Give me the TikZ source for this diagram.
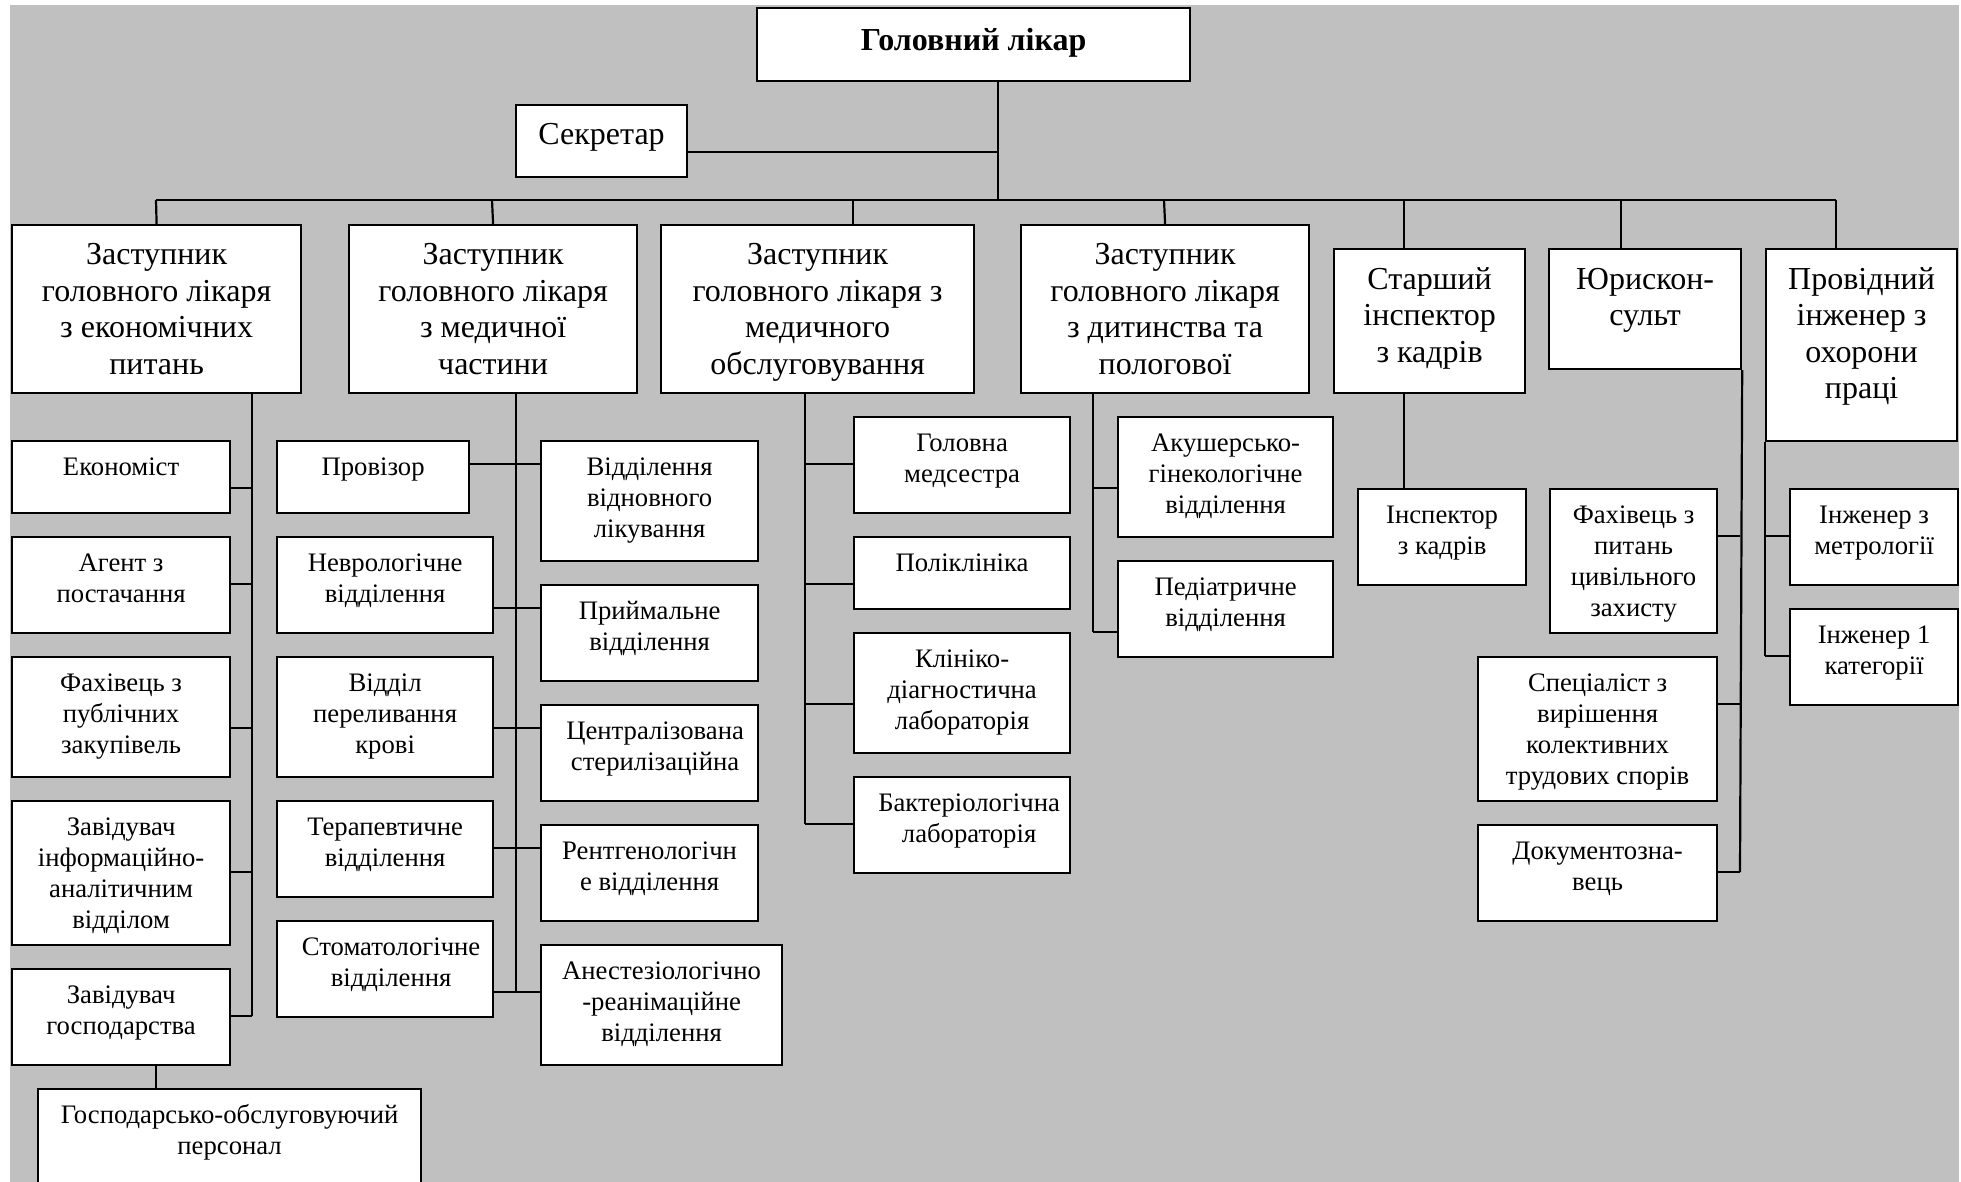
\documentclass[tikz,border=0pt]{standalone}
\usepackage{fontspec}
\setmainfont{Liberation Serif}

% one drawing unit = one pixel of the 1961 x 1182 sheet
\newlength{\pxu}\setlength{\pxu}{0.5pt}
\newcommand{\fsm}{\fontsize{13.35}{15.5}\selectfont}
\newcommand{\fbg}{\fontsize{16}{18.25}\selectfont}
% a box of given size whose text starts at the top
\newcommand{\cellbox}[5]{%
  \parbox[c][#2\pxu][t]{#1\pxu}{#3\centering\vspace*{#4\pxu}\strut#5\par}}
% [top pad]{name}{x1}{y1}{x2}{y2}{font}{text}
\newcommand{\orgnode}[8][13]{%
  \node[cell] (#2) at (#3,#4)
    {\cellbox{\numexpr#5-#3\relax}{\numexpr#6-#4\relax}{#7}{#1}{#8}};}
% moves a centred text block to the right by half the amount
\newcommand{\shiftby}[1]{\leftskip=#1\pxu plus 1fil\relax}

\definecolor{sheet}{RGB}{192,192,192}

\tikzset{
  cell/.style={draw=black, line width=1.1pt, fill=white, inner sep=0pt,
    anchor=north west},
  link/.style={draw=black, line width=1.1pt}
}

\begin{document}
\begin{tikzpicture}[x=0.5pt, y=-0.5pt]
\useasboundingbox (0,0) rectangle (1961,1182);
\fill[white] (0,0) rectangle (1961,1182);
\fill[sheet] (10,5) rectangle (1959,1182);

% top level
\orgnode[16.5]{head}{756}{7}{1189}{80}{\fbg\bfseries}{Головний лікар}
\orgnode[13.5]{sec}{515}{104}{686}{176}{\fbg}{Секретар}

% deputies and heads of services
\orgnode[14]{z1}{11}{224}{300}{392}{\fbg}{Заступник\\головного лікаря\\з економічних\\питань}
\orgnode[14]{z2}{348}{224}{636}{392}{\fbg}{Заступник\\головного лікаря\\з медичної\\частини}
\orgnode[14]{z3}{660}{224}{973}{392}{\fbg}{Заступник\\головного лікаря з\\медичного\\обслуговування}
\orgnode[14]{z4}{1020}{224}{1308}{392}{\fbg}{Заступник\\головного лікаря\\з дитинства та\\пологової}
\orgnode[14.5]{st}{1333}{248}{1524}{392}{\fbg}{Старший\\інспектор\\з кадрів}
\orgnode[14.5]{yu}{1548}{248}{1740}{368}{\fbg}{Юрискон-\\сульт}
\orgnode[14.5]{pr}{1765}{248}{1956}{440}{\fbg}{Провідний\\інженер з\\охорони\\праці}

% economic branch
\orgnode{eco}{11}{440}{229}{512}{\fsm}{Економіст}
\orgnode{agent}{11}{536}{229}{632}{\fsm}{Агент з\\постачання}
\orgnode{purch}{11}{656}{229}{776}{\fsm}{Фахівець з\\публічних\\закупівель}
\orgnode{info}{11}{800}{229}{944}{\fsm}{Завідувач\\інформаційно-\\аналітичним\\відділом}
\orgnode{house}{11}{968}{229}{1064}{\fsm}{Завідувач\\господарства}
\orgnode{staff}{37}{1088}{420}{1210}{\fsm}{Господарсько-обслуговуючий\\персонал}

% medical branch
\orgnode{prov}{276}{440}{468}{512}{\fsm}{Провізор}
\orgnode{nevr}{276}{536}{492}{632}{\fsm}{Неврологічне\\відділення}
\orgnode{blood}{276}{656}{492}{776}{\fsm}{Відділ\\переливання\\крові}
\orgnode{ther}{276}{800}{492}{896}{\fsm}{Терапевтичне\\відділення}
\orgnode{dent}{276}{920}{492}{1016}{\fsm}{\shiftby{12}Стоматологічне\\відділення}
\orgnode{rehab}{540}{440}{757}{560}{\fsm}{Відділення\\відновного\\лікування}
\orgnode{recep}{540}{584}{757}{680}{\fsm}{Приймальне\\відділення}
\orgnode{steril}{540}{704}{757}{800}{\fsm}{\shiftby{11}Централізована\\стерилізаційна}
\orgnode{xray}{540}{824}{757}{920}{\fsm}{Рентгенологічн\\е відділення}
\orgnode{anest}{540}{944}{781}{1064}{\fsm}{Анестезіологічно\\-реанімаційне\\відділення}

% medical service branch
\orgnode{nurse}{853}{416}{1069}{512}{\fsm}{Головна\\медсестра}
\orgnode{clinic}{853}{536}{1069}{608}{\fsm}{Поліклініка}
\orgnode{diag}{853}{632}{1069}{752}{\fsm}{Клініко-\\діагностична\\лабораторія}
\orgnode{bact}{853}{776}{1069}{872}{\fsm}{\shiftby{14}Бактеріологічна\\лабораторія}

% maternity branch
\orgnode{obst}{1117}{416}{1332}{536}{\fsm}{Акушерсько-\\гінекологічне\\відділення}
\orgnode{ped}{1117}{560}{1332}{656}{\fsm}{Педіатричне\\відділення}

% personnel, legal, safety
\orgnode{insp}{1357}{488}{1525}{584}{\fsm}{Інспектор\\з кадрів}
\orgnode{civil}{1549}{488}{1716}{632}{\fsm}{Фахівець з\\питань\\цивільного\\захисту}
\orgnode{labor}{1477}{656}{1716}{800}{\fsm}{Спеціаліст з\\вирішення\\колективних\\трудових спорів}
\orgnode{docs}{1477}{824}{1716}{920}{\fsm}{Документозна-\\вець}
\orgnode{metro}{1789}{488}{1957}{584}{\fsm}{Інженер з\\метрології}
\orgnode{eng}{1789}{608}{1957}{704}{\fsm}{Інженер 1\\категорії}

% junction points
\coordinate (trunk) at (998,200);
\coordinate (secj) at (998,152);
\coordinate (b1) at (156,200);
\coordinate (b2) at (492,200);
\coordinate (b3) at (853,200);
\coordinate (b4) at (1164,200);
\coordinate (b5) at (1404,200);
\coordinate (b6) at (1621,200);
\coordinate (b7) at (1836,200);

\coordinate (s1) at (252,392);
\coordinate (s1a) at (252,488);
\coordinate (s1b) at (252,584);
\coordinate (s1c) at (252,728);
\coordinate (s1d) at (252,872);
\coordinate (s1e) at (252,1016);
\coordinate (hs) at (156,1064);

\coordinate (s2) at (516,392);
\coordinate (s2a) at (516,464);
\coordinate (s2b) at (516,608);
\coordinate (s2c) at (516,728);
\coordinate (s2d) at (516,848);
\coordinate (s2e) at (516,992);

\coordinate (s3) at (805,392);
\coordinate (s3a) at (805,464);
\coordinate (s3b) at (805,584);
\coordinate (s3c) at (805,704);
\coordinate (s3d) at (805,824);

\coordinate (s4) at (1093,392);
\coordinate (s4a) at (1093,488);
\coordinate (s4b) at (1093,632);

\coordinate (s5) at (1404,392);

\coordinate (s6a) at (1740,536);
\coordinate (s6b) at (1740,704);
\coordinate (s6c) at (1740,872);

\coordinate (s7a) at (1765,536);
\coordinate (s7b) at (1765,656);

% chief and secretary
\draw[link] (head.south -| trunk) -- (trunk);
\draw[link] (sec.east |- secj) -- (secj);

% distribution bus
\draw[link] (b1) -- (b7);
\draw[link] (b1) -- (z1.north);
\draw[link] (b2) -- (z2.north);
\draw[link] (b3) -- (b3 |- z3.north);
\draw[link] (b4) -- (z4.north);
\draw[link] (b5) -- (b5 |- st.north);
\draw[link] (b6) -- (b6 |- yu.north);
\draw[link] (b7) -- (b7 |- pr.north);

% economic branch
\draw[link] (s1) -- (s1e);
\draw[link] (eco.east |- s1a) -- (s1a);
\draw[link] (agent.east |- s1b) -- (s1b);
\draw[link] (purch.east |- s1c) -- (s1c);
\draw[link] (info.east |- s1d) -- (s1d);
\draw[link] (house.east |- s1e) -- (s1e);
\draw[link] (house.south -| hs) -- (staff.north -| hs);

% medical branch
\draw[link] (s2) -- (s2e);
\draw[link] (prov.east |- s2a) -- (rehab.west |- s2a);
\draw[link] (nevr.east |- s2b) -- (recep.west |- s2b);
\draw[link] (blood.east |- s2c) -- (steril.west |- s2c);
\draw[link] (ther.east |- s2d) -- (xray.west |- s2d);
\draw[link] (dent.east |- s2e) -- (anest.west |- s2e);

% medical service branch
\draw[link] (s3) -- (s3d);
\draw[link] (s3a) -- (nurse.west |- s3a);
\draw[link] (s3b) -- (clinic.west |- s3b);
\draw[link] (s3c) -- (diag.west |- s3c);
\draw[link] (s3d) -- (bact.west |- s3d);

% maternity branch
\draw[link] (s4) -- (s4b);
\draw[link] (s4a) -- (obst.west |- s4a);
\draw[link] (s4b) -- (ped.west |- s4b);

% personnel
\draw[link] (s5) -- (insp.north -| s5);

% legal adviser
\draw[link] (yu.south east) -- (s6c);
\draw[link] (civil.east |- s6a) -- (s6a);
\draw[link] (labor.east |- s6b) -- (s6b);
\draw[link] (docs.east |- s6c) -- (s6c);

% labour safety
\draw[link] (pr.south west) -- (s7b);
\draw[link] (s7a) -- (metro.west |- s7a);
\draw[link] (s7b) -- (eng.west |- s7b);
\end{tikzpicture}
\end{document}
